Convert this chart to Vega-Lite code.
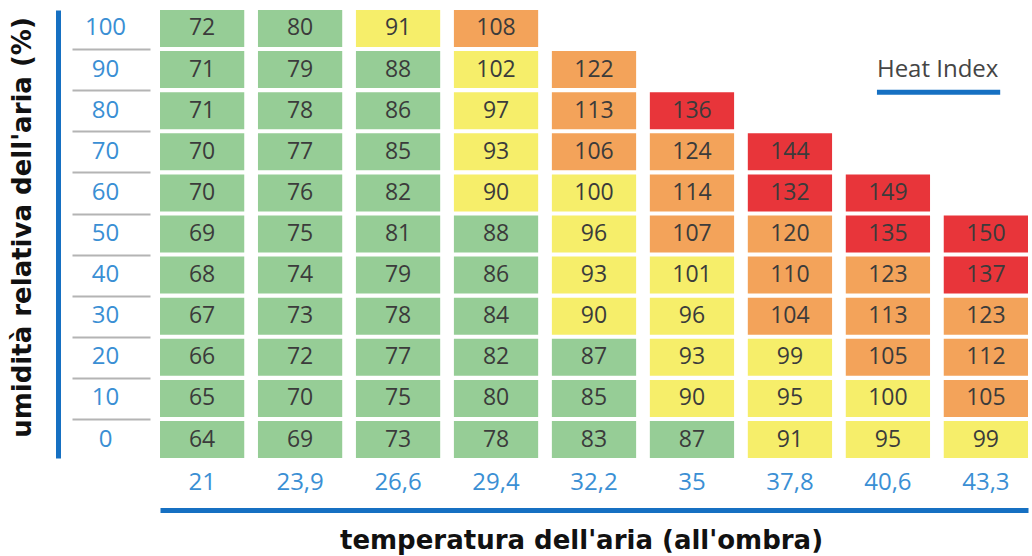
{
  "$schema": "https://vega.github.io/schema/vega-lite/v6.json",
  "width": 868,
  "height": 448,
  "autosize": {"type": "none"},
  "padding": {"left": 160, "top": 10, "right": 4, "bottom": 98},
  "background": "white",
  "config": {"view": {"stroke": null}, "font": "Open Sans"},
  "datasets": {
    "hi": [
      {"t": "21", "h": 100, "v": 72}, {"t": "21", "h": 90, "v": 71}, {"t": "21", "h": 80, "v": 71}, {"t": "21", "h": 70, "v": 70}, {"t": "21", "h": 60, "v": 70}, {"t": "21", "h": 50, "v": 69}, {"t": "21", "h": 40, "v": 68}, {"t": "21", "h": 30, "v": 67}, {"t": "21", "h": 20, "v": 66}, {"t": "21", "h": 10, "v": 65}, {"t": "21", "h": 0, "v": 64},
      {"t": "23,9", "h": 100, "v": 80}, {"t": "23,9", "h": 90, "v": 79}, {"t": "23,9", "h": 80, "v": 78}, {"t": "23,9", "h": 70, "v": 77}, {"t": "23,9", "h": 60, "v": 76}, {"t": "23,9", "h": 50, "v": 75}, {"t": "23,9", "h": 40, "v": 74}, {"t": "23,9", "h": 30, "v": 73}, {"t": "23,9", "h": 20, "v": 72}, {"t": "23,9", "h": 10, "v": 70}, {"t": "23,9", "h": 0, "v": 69},
      {"t": "26,6", "h": 100, "v": 91}, {"t": "26,6", "h": 90, "v": 88}, {"t": "26,6", "h": 80, "v": 86}, {"t": "26,6", "h": 70, "v": 85}, {"t": "26,6", "h": 60, "v": 82}, {"t": "26,6", "h": 50, "v": 81}, {"t": "26,6", "h": 40, "v": 79}, {"t": "26,6", "h": 30, "v": 78}, {"t": "26,6", "h": 20, "v": 77}, {"t": "26,6", "h": 10, "v": 75}, {"t": "26,6", "h": 0, "v": 73},
      {"t": "29,4", "h": 100, "v": 108}, {"t": "29,4", "h": 90, "v": 102}, {"t": "29,4", "h": 80, "v": 97}, {"t": "29,4", "h": 70, "v": 93}, {"t": "29,4", "h": 60, "v": 90}, {"t": "29,4", "h": 50, "v": 88}, {"t": "29,4", "h": 40, "v": 86}, {"t": "29,4", "h": 30, "v": 84}, {"t": "29,4", "h": 20, "v": 82}, {"t": "29,4", "h": 10, "v": 80}, {"t": "29,4", "h": 0, "v": 78},
      {"t": "32,2", "h": 90, "v": 122}, {"t": "32,2", "h": 80, "v": 113}, {"t": "32,2", "h": 70, "v": 106}, {"t": "32,2", "h": 60, "v": 100}, {"t": "32,2", "h": 50, "v": 96}, {"t": "32,2", "h": 40, "v": 93}, {"t": "32,2", "h": 30, "v": 90}, {"t": "32,2", "h": 20, "v": 87}, {"t": "32,2", "h": 10, "v": 85}, {"t": "32,2", "h": 0, "v": 83},
      {"t": "35", "h": 80, "v": 136}, {"t": "35", "h": 70, "v": 124}, {"t": "35", "h": 60, "v": 114}, {"t": "35", "h": 50, "v": 107}, {"t": "35", "h": 40, "v": 101}, {"t": "35", "h": 30, "v": 96}, {"t": "35", "h": 20, "v": 93}, {"t": "35", "h": 10, "v": 90}, {"t": "35", "h": 0, "v": 87},
      {"t": "37,8", "h": 70, "v": 144}, {"t": "37,8", "h": 60, "v": 132}, {"t": "37,8", "h": 50, "v": 120}, {"t": "37,8", "h": 40, "v": 110}, {"t": "37,8", "h": 30, "v": 104}, {"t": "37,8", "h": 20, "v": 99}, {"t": "37,8", "h": 10, "v": 95}, {"t": "37,8", "h": 0, "v": 91},
      {"t": "40,6", "h": 60, "v": 149}, {"t": "40,6", "h": 50, "v": 135}, {"t": "40,6", "h": 40, "v": 123}, {"t": "40,6", "h": 30, "v": 113}, {"t": "40,6", "h": 20, "v": 105}, {"t": "40,6", "h": 10, "v": 100}, {"t": "40,6", "h": 0, "v": 95},
      {"t": "43,3", "h": 50, "v": 150}, {"t": "43,3", "h": 40, "v": 137}, {"t": "43,3", "h": 30, "v": 123}, {"t": "43,3", "h": 20, "v": 112}, {"t": "43,3", "h": 10, "v": 105}, {"t": "43,3", "h": 0, "v": 99}
    ],
    "lbl": [{"label": "Heat Index"}]
  },
  "resolve": {"axis": {"x": "independent", "y": "independent"}},
  "layer": [
    {
      "data": {"name": "hi"},
      "mark": {"type": "rect"},
      "encoding": {
        "x": {
          "field": "t", "type": "ordinal",
          "scale": {"domain": ["21", "23,9", "26,6", "29,4", "32,2", "35", "37,8", "40,6", "43,3"], "paddingInner": 0.14, "paddingOuter": 0},
          "axis": {
            "title": "temperatura dell'aria (all'ombra)",
            "orient": "bottom", "offset": 52,
            "domainColor": "#1670c2", "domainWidth": 5, "domainCap": "butt",
            "ticks": false, "tickSize": 0,
            "labelPadding": -28, "labelBaseline": "middle", "labelAngle": 0,
            "labelColor": "#3a8fd4", "labelFontSize": 24, "labelFont": "Open Sans",
            "titleFont": "DejaVu Sans", "titleFontWeight": "bold", "titleFontSize": 26, "titleColor": "#111111",
            "titleX": 421, "titleY": 30, "titleAlign": "center", "titleBaseline": "middle"
          }
        },
        "y": {
          "field": "h", "type": "ordinal",
          "scale": {"domain": [100, 90, 80, 70, 60, 50, 40, 30, 20, 10, 0], "paddingInner": 0.1, "paddingOuter": 0},
          "axis": {
            "title": "umidità relativa dell'aria (%)",
            "orient": "left", "offset": 102,
            "domainColor": "#1670c2", "domainWidth": 5, "domainCap": "butt",
            "ticks": false, "tickSize": 0,
            "labelPadding": -47, "labelAlign": "center", "labelBaseline": "middle",
            "labelColor": "#3a8fd4", "labelFontSize": 24, "labelFont": "Open Sans",
            "titleFont": "DejaVu Sans", "titleFontWeight": "bold", "titleFontSize": 26, "titleColor": "#111111",
            "titleX": -36, "titleY": 217, "titleAngle": 270, "titleAlign": "center", "titleBaseline": "middle"
          }
        },
        "color": {
          "field": "v", "type": "quantitative",
          "scale": {"type": "threshold", "domain": [89.5, 103.5, 130.5], "range": ["#96cd96", "#f6ee6a", "#f3a35a", "#e8353a"]},
          "legend": null
        }
      }
    },
    {
      "data": {"name": "hi"},
      "mark": {"type": "text", "fontSize": 23, "color": "#3b3b3b", "font": "Open Sans", "baseline": "middle"},
      "encoding": {
        "x": {"field": "t", "type": "ordinal", "axis": null},
        "y": {
          "field": "h", "type": "ordinal",
          "axis": {
            "orient": "left", "offset": 10, "title": null,
            "domain": false, "labels": false,
            "ticks": true, "tickSize": 78, "tickColor": "#b4b4b4", "tickWidth": 2,
            "values": [90, 80, 70, 60, 50, 40, 30, 20, 10, 0], "tickOffset": -20.5
          }
        },
        "text": {"field": "v", "type": "quantitative"}
      }
    },
    {
      "data": {"name": "lbl"},
      "mark": {"type": "text", "fontSize": 24, "color": "#454545", "font": "Open Sans", "align": "left", "baseline": "middle"},
      "encoding": {
        "x": {"datum": "40,6", "type": "ordinal", "bandPosition": 0.37, "axis": null},
        "y": {"datum": 90, "type": "ordinal", "bandPosition": 0.5, "axis": null},
        "text": {"field": "label", "type": "nominal"}
      }
    },
    {
      "data": {"name": "lbl"},
      "mark": {"type": "rule", "color": "#1670c2", "strokeWidth": 5},
      "encoding": {
        "x": {"datum": "40,6", "type": "ordinal", "bandPosition": 0.37, "axis": null},
        "x2": {"datum": "43,3", "bandPosition": 0.67},
        "y": {"datum": 80, "type": "ordinal", "bandPosition": 0, "axis": null}
      }
    }
  ]
}
